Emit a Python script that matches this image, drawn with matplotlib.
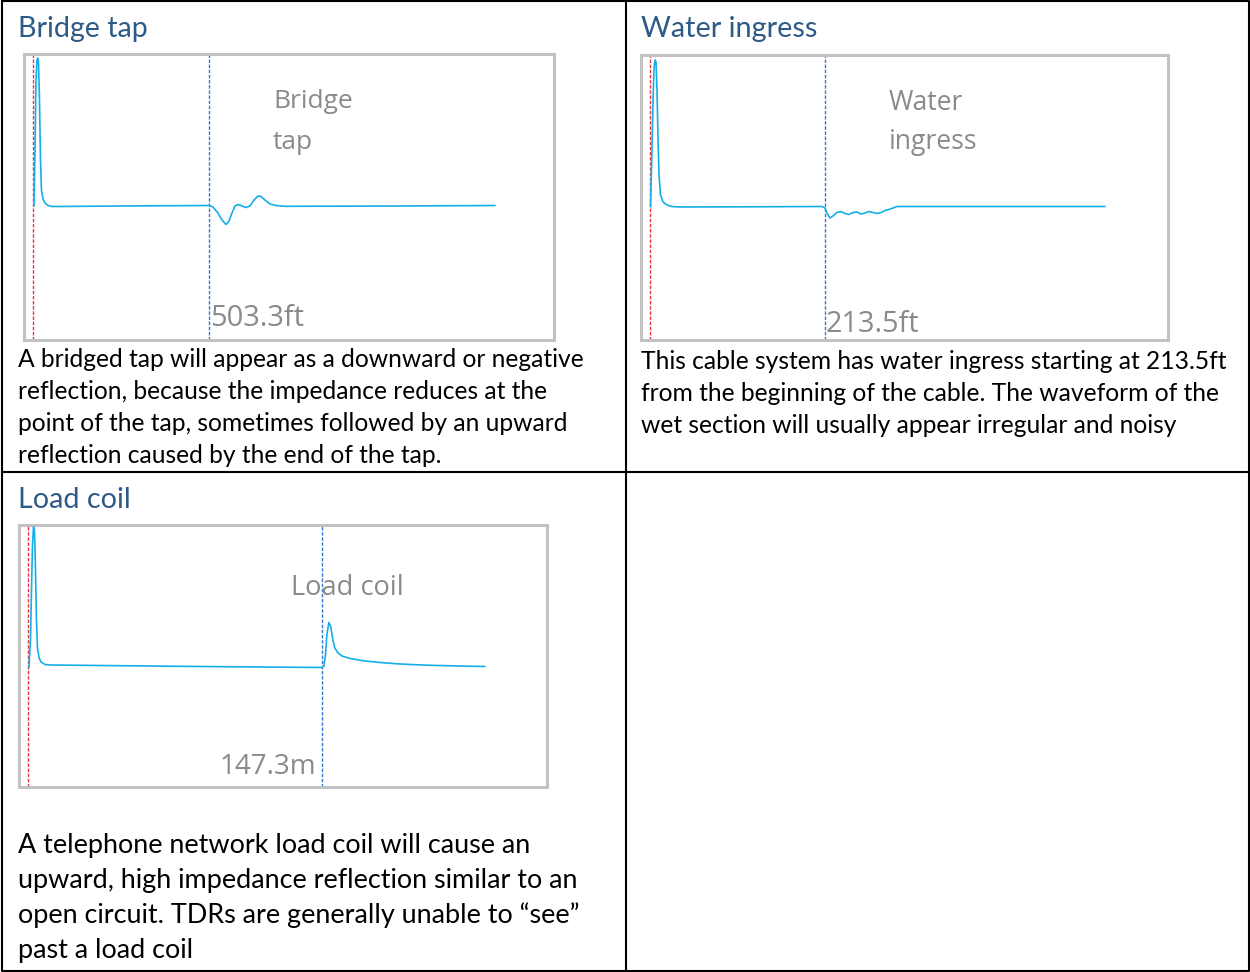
import matplotlib
matplotlib.use("Agg")
import matplotlib.pyplot as plt
import numpy as np

# ---------------- data ----------------
# Bridge tap: distance (ft) vs reflection amplitude (arbitrary units)
bridge_dist = [1.4, 4.3, 7.2, 10.0, 12.3, 14.3, 17.2, 20.1, 22.9, 27.2, 33.0, 41.6, 53.1, 76.0,
               248.1, 503.3, 514.8, 529.1, 540.6, 552.1, 560.7, 569.3, 577.9, 586.5, 598.0,
               609.4, 620.9, 632.4, 643.9, 652.5, 663.9, 678.3, 695.5, 721.3, 1051.2, 1323.7]
bridge_amp = [0, 56, 126, 146, 148, 144, 106, 46, 16, 7, 3, 0.5, -0.5, -0.5,
              0, 0.5, -1, -7, -14, -18.5, -15, -7, 0, 1.5, 0,
              -1.5, 0, 6, 10, 9.5, 6, 2, 0.5, -0.3, 0, 0.5]
bridge_cursors = [0.0, 503.3]

# Water ingress: distance (ft) vs amplitude
water_dist = [0.6, 2.4, 3.7, 4.9, 6.1, 7.3, 8.5, 9.8, 11.0, 12.8, 15.9, 20.7, 26.8, 36.6,
              122.0, 209.8, 213.5, 215.9, 219.6, 223.3, 228.1, 233.0, 237.9, 242.8, 247.7,
              252.5, 257.4, 262.3, 267.2, 272.1, 276.9, 281.8, 286.7, 291.6, 296.5, 301.3,
              366.0, 555.1]
water_amp = [0, 57, 107, 139, 147, 145, 117, 67, 32, 12, 5, 2, 0.5, 0,
             0.2, 0.5, -1, -6, -11, -9, -5.5, -4.5, -6.5, -7.5, -5.5,
             -5, -7, -6, -4.5, -5.5, -6.5, -5.5, -3.5, -2.5, -1, 0.5,
             0.5, 0.5]
water_cursors = [0.0, 213.5]

# Load coil: distance (m) vs amplitude
coil_dist = [0.25, 1.0, 1.5, 2.0, 2.5, 3.0, 3.5, 4.0, 4.5, 5.3, 6.3, 8.3, 10.8, 35.8, 85.9,
             147.0, 148.0, 148.8, 149.5, 150.5, 151.5, 152.5, 153.5, 155.1, 157.1, 161.1,
             168.6, 176.1, 186.1, 201.2, 216.2, 228.7]
coil_amp = [0, 27, 77, 122, 140, 137, 97, 47, 19, 9, 5, 2.5, 2, 1.5, 0.5,
            -0.5, 1, 12, 32, 44.5, 40, 27, 19, 14, 11, 8.5,
            6, 4.5, 3, 1.7, 1, 0.5]
coil_cursors = [0.0, 147.3]

titles = ["Bridge tap", "Water ingress", "Load coil"]
chart_labels = [["Bridge", "tap"], ["Water", "ingress"], ["Load coil"]]
units = ["ft", "ft", "m"]
captions = [
    ["A bridged tap will appear as a downward or negative",
     "reflection, because the impedance reduces at the",
     "point of the tap, sometimes followed by an upward",
     "reflection caused by the end of the tap."],
    ["This cable system has water ingress starting at 213.5ft",
     "from the beginning of the cable. The waveform of the",
     "wet section will usually appear irregular and noisy"],
    ["A telephone network load coil will cause an",
     "upward, high impedance reflection similar to an",
     "open circuit. TDRs are generally unable to \u201csee\u201d",
     "past a load coil"],
]

# ---------------- layout / style ----------------
W, H = 1250, 972
fig = plt.figure(figsize=(W / 100, H / 100), dpi=100)
bg = fig.add_axes([0, 0, 1, 1])
bg.set_xlim(0, W)
bg.set_ylim(H, 0)
bg.axis("off")

# table grid
tbl = dict(color="black", lw=1.5, solid_capstyle="projecting")
bg.plot([1.5, W - 1.5, W - 1.5, 1.5, 1.5], [1.5, 1.5, H - 1.5, H - 1.5, 1.5], **tbl)
bg.plot([626, 626], [1.5, H - 1.5], **tbl)
bg.plot([1.5, W - 1.5], [472, 472], **tbl)

TITLE_C = "#2E5A87"
LABEL_C = "#8A8A8A"
WAVE_C = "#16AEE8"
RED_C = "#E8343C"
BLUE_C = "#3579CF"
BOX_C = "#C2C2C2"

renderer = fig.canvas.get_renderer()


def fit_group(texts, targets):
    ratios = []
    for t, tw in zip(texts, targets):
        w = t.get_window_extent(renderer).width
        ratios.append(tw / w)
    r = float(np.median(ratios))
    for t in texts:
        t.set_fontsize(t.get_fontsize() * r)


# panel geometry: chart box (px), data limits, text positions
panels = [
    dict(dist=bridge_dist, amp=bridge_amp, cur=bridge_cursors,
         box=(24, 54, 554, 340), xlim=(-27.2, 1492.8), ylim=(-134, 152),
         title_xy=(18, 37), title_w=130,
         lab_xy=[(273, 108), (273, 149)], lab_w=[80, 40],
         cur_lab=(210, 326, 94, "left"),
         cap_x=18, cap_y=[367, 399, 431, 463], cap_w=[568, 534, 554, 425]),
    dict(dist=water_dist, amp=water_amp, cur=water_cursors,
         box=(641, 55, 1168, 340), xlim=(-11.0, 632.0), ylim=(-133, 152),
         title_xy=(641, 37), title_w=177,
         lab_xy=[(889, 110), (889, 149)], lab_w=[72, 91],
         cur_lab=(826, 332, 94, "left"),
         cap_x=641, cap_y=[369, 401, 433], cap_w=[583, 580, 540]),
    dict(dist=coil_dist, amp=coil_amp, cur=coil_cursors,
         box=(19, 525, 547, 787), xlim=(-4.76, 259.8), ylim=(-120, 142),
         title_xy=(18, 508), title_w=112,
         lab_xy=[(291, 595)], lab_w=[113],
         cur_lab=(316, 774, 97, "right"),
         cap_x=18, cap_y=[853, 888, 923, 958], cap_w=[514, 568, 568, 175]),
]

for i, p in enumerate(panels):
    x0, y0, x1, y1 = p["box"]
    ax = fig.add_axes([x0 / W, 1 - y1 / H, (x1 - x0) / W, (y1 - y0) / H])
    ax.set_facecolor("none")
    ax.set_xlim(*p["xlim"])
    ax.set_ylim(*p["ylim"])
    ax.set_xticks([])
    ax.set_yticks([])
    for s in ax.spines.values():
        s.set_color(BOX_C)
        s.set_linewidth(2.2)
    ax.axvline(p["cur"][0], color=RED_C, lw=1.0, ls=(0, (2.5, 1.2)), zorder=2)
    ax.axvline(p["cur"][1], color=BLUE_C, lw=1.0, ls=(0, (2.5, 1.2)), zorder=2)
    ax.plot(p["dist"], p["amp"], color=WAVE_C, lw=1.2, zorder=3,
            solid_joinstyle="round", solid_capstyle="round")

    # title
    t = fig.text(*p["title_xy"], titles[i], color=TITLE_C, fontsize=20,
                 family="Lato", va="baseline", ha="left", transform=bg.transData)
    fit_group([t], [p["title_w"]])

    # gray labels inside chart
    labs = [fig.text(x, y, s, color=LABEL_C, fontsize=18, family="Open Sans",
                     va="baseline", ha="left", transform=bg.transData)
            for (x, y), s in zip(p["lab_xy"], chart_labels[i])]
    fit_group(labs, p["lab_w"])

    cx, cy, cw, cha = p["cur_lab"]
    ct = fig.text(cx, cy, f"{p['cur'][1]:.1f}{units[i]}", color=LABEL_C, fontsize=18,
                  family="Open Sans", va="baseline", ha=cha, transform=bg.transData)
    fit_group([ct], [cw])

    # caption
    caps = [fig.text(p["cap_x"], y, s, color="black", fontsize=16, family="Lato",
                     va="baseline", ha="left", transform=bg.transData)
            for y, s in zip(p["cap_y"], captions[i])]
    fit_group(caps, p["cap_w"])

fig.savefig("out.png", dpi=100, facecolor="white")
